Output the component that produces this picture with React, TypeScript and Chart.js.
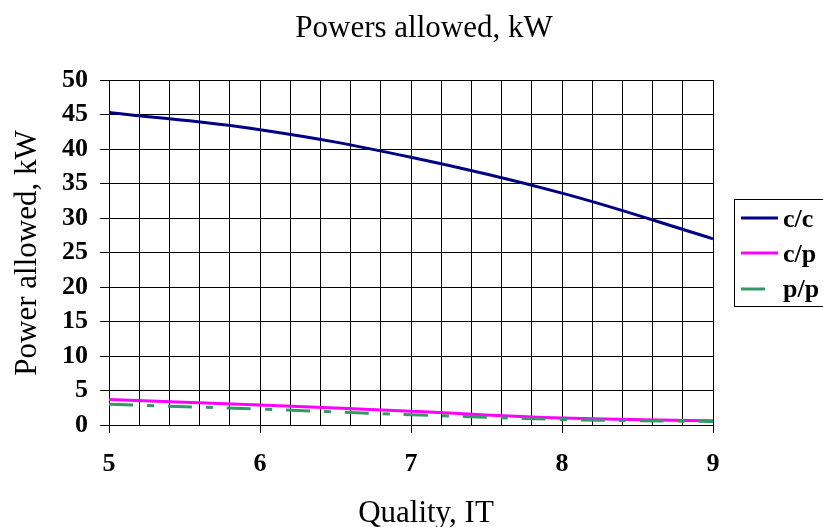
import React, { useEffect, useRef } from 'react';
import { Chart, registerables } from 'chart.js';

Chart.register(...registerables);

const qualities = [5, 6, 7, 8, 9];
const ccValues = [45.3, 42.8, 38.8, 33.6, 27.0];
const cpValues = [3.7, 2.9, 2.0, 1.0, 0.6];
const ppValues = [3.0, 2.3, 1.5, 0.8, 0.5];
const seriesLabels = ['c/c', 'c/p', 'p/p'];
const chartTitle = 'Powers allowed, kW';
const xTitle = 'Quality, IT';
const yTitle = 'Power allowed, kW';

const FONT = "'Liberation Serif', 'Times New Roman', serif";

const textPlugin = {
  id: 'customText',
  afterDraw(chart: any) {
    const ctx = chart.ctx as CanvasRenderingContext2D;
    ctx.save();
    ctx.fillStyle = '#000';
    ctx.font = `31px ${FONT}`;
    ctx.textAlign = 'center';
    ctx.textBaseline = 'alphabetic';
    ctx.fillText(chartTitle, 424, 37);
    ctx.fillText(xTitle, 426, 522);
    ctx.translate(36, 253);
    ctx.rotate(-Math.PI / 2);
    ctx.fillText(yTitle, 0, 0);
    ctx.restore();

    // legend
    ctx.save();
    ctx.strokeStyle = '#000';
    ctx.lineWidth = 1;
    ctx.strokeRect(734.5, 199.5, 200, 107);
    const lineRows = [218, 253, 289];
    const textRows = [227, 262, 297];
    chart.data.datasets.forEach((ds: any, i: number) => {
      ctx.beginPath();
      ctx.strokeStyle = ds.borderColor;
      ctx.lineWidth = 3;
      ctx.setLineDash(ds.borderDash || []);
      ctx.moveTo(741, lineRows[i]);
      ctx.lineTo(778, lineRows[i]);
      ctx.stroke();
      ctx.setLineDash([]);
      ctx.fillStyle = '#000';
      ctx.font = `bold 26px ${FONT}`;
      ctx.textAlign = 'left';
      ctx.textBaseline = 'alphabetic';
      ctx.fillText(ds.label, 783, textRows[i]);
    });
    ctx.restore();
  },
};

const isInt = (v: number) => Math.abs(v - Math.round(v)) < 1e-6;

export default function App() {
  const ref = useRef<HTMLCanvasElement>(null);
  useEffect(() => {
    if (!ref.current) return;
    const toPts = (vals: number[]) => qualities.map((q, i) => ({ x: q, y: vals[i] }));
    const chart = new Chart(ref.current, {
      type: 'line',
      data: {
        datasets: [
          {
            label: seriesLabels[0],
            data: toPts(ccValues),
            borderColor: '#000080',
            borderWidth: 3,
            pointRadius: 0,
            tension: 0.4,
            fill: false,
            order: 2,
          },
          {
            label: seriesLabels[1],
            data: toPts(cpValues),
            borderColor: '#FF00FF',
            borderWidth: 3,
            pointRadius: 0,
            tension: 0.4,
            fill: false,
            order: 1,
          },
          {
            label: seriesLabels[2],
            data: toPts(ppValues),
            borderColor: '#339966',
            borderWidth: 3,
            borderDash: [24, 14, 7, 14],
            pointRadius: 0,
            tension: 0.4,
            fill: false,
            order: 0,
          },
        ],
      },
      options: {
        animation: false,
        responsive: true,
        maintainAspectRatio: false,
        layout: { padding: { left: 0, top: 80, right: 110, bottom: 0 } },
        plugins: {
          legend: { display: false },
          title: { display: false },
          tooltip: { enabled: false },
        },
        scales: {
          x: {
            type: 'linear',
            min: 5,
            max: 9,
            afterFit: (s: any) => {
              s.height = 102;
            },
            afterBuildTicks: (s: any) => {
              const t = [];
              for (let i = 0; i <= 20; i++) t.push({ value: 5 + i * 0.2 });
              s.ticks = t;
            },
            border: { color: '#000', width: 1 },
            grid: {
              color: '#000',
              lineWidth: 1,
              tickLength: 8,
              tickColor: (c: any) => (c.tick && isInt(c.tick.value) ? '#000' : 'rgba(0,0,0,0)'),
            },
            ticks: {
              autoSkip: false,
              maxRotation: 0,
              padding: 16,
              color: '#000',
              font: { family: FONT, size: 26, weight: 'bold' },
              callback: (v: any) => (isInt(Number(v)) ? String(Math.round(Number(v))) : ''),
            },
          },
          y: {
            min: 0,
            max: 50,
            afterFit: (s: any) => {
              s.width = 109;
            },
            border: { color: '#000', width: 1 },
            grid: { color: '#000', lineWidth: 1, tickLength: 9, tickColor: '#000' },
            ticks: {
              stepSize: 5,
              padding: 12,
              color: '#000',
              font: { family: FONT, size: 26, weight: 'bold' },
            },
          },
        },
      },
      plugins: [textPlugin],
    });
    return () => chart.destroy();
  }, []);
  return (
    <div style={{ position: 'absolute', left: 0, top: 0, width: 823, height: 527, background: '#fff' }}>
      <canvas ref={ref} />
    </div>
  );
}
